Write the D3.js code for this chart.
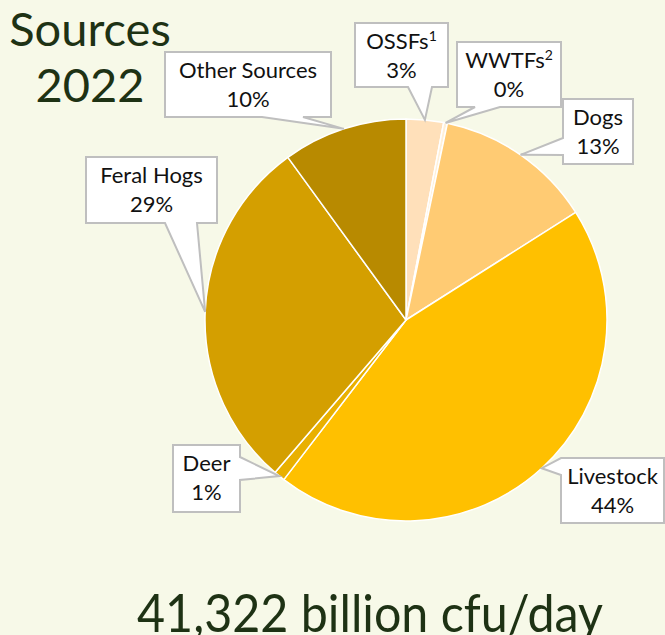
<!DOCTYPE html>
<html>
<head>
<meta charset="utf-8">
<script src="https://cdn.jsdelivr.net/npm/d3@7"></script>
<style>
  html, body { margin: 0; padding: 0; background: #F7F9E8; }
  svg { display: block; }
</style>
</head>
<body>
<svg id="chart" width="665" height="635"></svg>
<script>
// ---- data ----
const categories = ["OSSFs", "WWTFs", "Dogs", "Livestock", "Deer", "Feral Hogs", "Other Sources"];
const superscripts = ["1", "2", "", "", "", "", ""];
const values = [3.0, 0.3, 12.7, 44.4, 0.9, 28.7, 10.0];
const colors = ["#FFE0BA", "#FFF0D8", "#FFCB73", "#FFC000", "#E9B000", "#D49F00", "#B88A00"];
const titleLines = ["Sources", "2022"];
const totalLabel = "41,322 billion cfu/day";

// ---- layout (callout boxes) ----
const boxes = [
  {x: 355, y: 23,  w: 93,  h: 64, side: "bottom", b1: 408, b2: 432},
  {x: 457, y: 42,  w: 104, h: 65, side: "bottom", b1: 475, b2: 500},
  {x: 563, y: 99,  w: 70,  h: 65, side: "left",   b1: 138, b2: 155},
  {x: 561, y: 458, w: 103, h: 65, side: "left",   b1: 458, b2: 475},
  {x: 173, y: 445, w: 67,  h: 67, side: "right",  b1: 457, b2: 480},
  {x: 86,  y: 157, w: 131, h: 66, side: "bottom", b1: 165, b2: 197},
  {x: 165, y: 52,  w: 166, h: 65, side: "bottom", b1: 262, b2: 303}
];

const cx = 406, cy = 320, R = 201;
const svg = d3.select("#chart");
const font = "Lato, 'Noto Sans', sans-serif";

const data = categories.map((c, i) => ({name: c, sup: superscripts[i], value: values[i], color: colors[i], box: boxes[i]}));

const pie = d3.pie().sort(null).value(d => d.value);
const arcs = pie(data);
const arc = d3.arc().innerRadius(0).outerRadius(R);
const edgeArc = d3.arc().innerRadius(R).outerRadius(R);

const g = svg.append("g").attr("transform", `translate(${cx},${cy})`);
g.selectAll("path.slice").data(arcs).join("path")
  .attr("class", "slice")
  .attr("d", arc)
  .attr("fill", d => d.data.color)
  .attr("stroke", "#FFFFFF")
  .attr("stroke-width", 1.5)
  .attr("stroke-linejoin", "round");

// callouts
const pct = d3.format(".0f");
arcs.forEach(a => {
  const b = a.data.box;
  const c = edgeArc.centroid(a);
  const tx = cx + c[0], ty = cy + c[1];
  const x0 = b.x, y0 = b.y, x1 = b.x + b.w, y1 = b.y + b.h;
  let p = d3.path();
  p.moveTo(x0, y0);
  p.lineTo(x1, y0);
  if (b.side === "right") { p.lineTo(x1, b.b1); p.lineTo(tx, ty); p.lineTo(x1, b.b2); }
  p.lineTo(x1, y1);
  if (b.side === "bottom") { p.lineTo(b.b2, y1); p.lineTo(tx, ty); p.lineTo(b.b1, y1); }
  p.lineTo(x0, y1);
  if (b.side === "left") { p.lineTo(x0, b.b2); p.lineTo(tx, ty); p.lineTo(x0, b.b1); }
  p.closePath();
  svg.append("path").attr("d", p.toString())
    .attr("fill", "#FFFFFF").attr("stroke", "#BFBFBF").attr("stroke-width", 2)
    .attr("stroke-linejoin", "miter");

  const mx = b.x + b.w / 2;
  const t1 = svg.append("text").attr("x", mx).attr("y", b.y + 26)
    .attr("text-anchor", "middle").attr("font-family", font).attr("font-size", 22)
    .attr("fill", "#111");
  t1.append("tspan").text(a.data.name);
  if (a.data.sup) {
    t1.append("tspan").attr("font-size", 14).attr("dy", -8).text(a.data.sup);
  }
  svg.append("text").attr("x", mx).attr("y", b.y + 55)
    .attr("text-anchor", "middle").attr("font-family", font).attr("font-size", 22)
    .attr("fill", "#111").text(pct(a.data.value) + "%");
});

// title
svg.selectAll("text.title").data(titleLines).join("text")
  .attr("class", "title")
  .attr("x", 90).attr("y", (d, i) => 46 + i * 56)
  .attr("text-anchor", "middle")
  .attr("font-family", font).attr("font-size", 47)
  .attr("fill", "#1E3214")
  .text(d => d);

svg.append("text").attr("x", 370).attr("y", 632)
  .attr("text-anchor", "middle")
  .attr("font-family", font).attr("font-size", 52)
  .attr("textLength", 466).attr("lengthAdjust", "spacingAndGlyphs")
  .attr("fill", "#1E3214")
  .text(totalLabel);
</script>
</body>
</html>
